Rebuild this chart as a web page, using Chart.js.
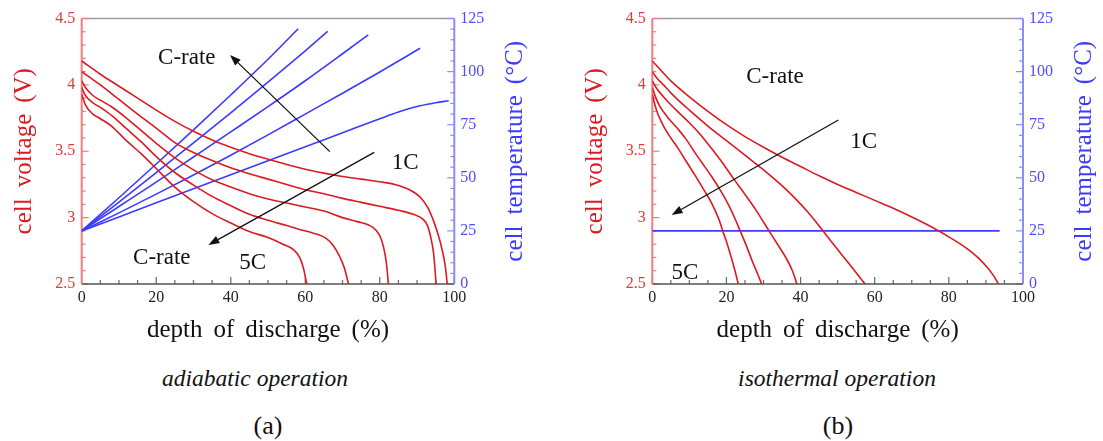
<!DOCTYPE html>
<html>
<head>
<meta charset="utf-8">
<title>Cell voltage and temperature vs depth of discharge</title>
<script src="https://cdn.jsdelivr.net/npm/chart.js@4.4.1/dist/chart.umd.min.js"></script>
<style>
  html, body { margin: 0; padding: 0; background: #fff; }
  body { width: 1103px; height: 441px; position: relative; overflow: hidden;
         font-family: 'Liberation Serif', 'Times New Roman', serif; }
  .panel { position: absolute; top: 0; height: 345px; }
  .caption { position: absolute; transform: translate(-50%, -50%); white-space: nowrap; color: #111; }
  .mode { font-style: italic; font-size: 23.5px; top: 378px; }
  .tag { font-size: 26px; top: 426px; }
</style>
</head>
<body>
<div class="panel" style="left:0;width:551px"><canvas id="adiabatic"></canvas></div>
<div class="panel" style="left:551px;width:552px"><canvas id="isothermal"></canvas></div>
<div class="caption mode" style="left:255px">adiabatic operation</div>
<div class="caption tag" style="left:268px">(a)</div>
<div class="caption mode" style="left:837px">isothermal operation</div>
<div class="caption tag" style="left:838px">(b)</div>
<script>
// axis ticks
const dodTicks = [0, 20, 40, 60, 80, 100];
const voltageTicks = [2.5, 3, 3.5, 4, 4.5];
const tempTicks = [0, 25, 50, 75, 100, 125];

// adiabatic discharge, [depth of discharge %, cell voltage V]
const adiaVolt1C = [[0,4.18],[2,4.14],[5,4.08],[10,3.99],[15,3.90],[20,3.81],[25,3.725],[30,3.65],[35,3.585],[40,3.53],[45,3.482],[50,3.44],[55,3.40],[60,3.365],[65,3.335],[70,3.31],[75,3.29],[80,3.27],[84,3.25],[88,3.21],[91,3.15],[93,3.07],[94.5,2.97],[95.8,2.86],[96.8,2.75],[97.6,2.63],[98.1,2.5]];
const adiaVolt2C = [[0,4.10],[2,4.06],[5,4.0],[10,3.89],[15,3.78],[20,3.675],[25,3.565],[30,3.49],[35,3.43],[40,3.375],[45,3.33],[50,3.29],[55,3.25],[60,3.21],[65,3.18],[70,3.145],[75,3.115],[80,3.085],[85,3.055],[89,3.025],[91.5,2.99],[92.8,2.94],[93.7,2.85],[94.4,2.74],[94.8,2.62],[95.1,2.5]];
const adiaVolt3C = [[0,4.03],[1,3.98],[3,3.92],[5,3.885],[8,3.835],[12,3.75],[16,3.655],[20,3.56],[25,3.45],[30,3.36],[35,3.285],[40,3.23],[45,3.18],[50,3.14],[55,3.11],[60,3.08],[65,3.05],[70,3.0],[74,2.97],[77,2.945],[79,2.905],[80.5,2.83],[81.5,2.71],[82,2.6],[82.3,2.5]];
const adiaVolt4C = [[0,3.98],[1,3.92],[3,3.865],[5,3.83],[8,3.77],[12,3.67],[16,3.57],[20,3.46],[25,3.34],[30,3.245],[35,3.16],[40,3.09],[45,3.025],[50,2.98],[55,2.94],[58,2.915],[62,2.885],[65.5,2.845],[67.5,2.79],[69,2.72],[70.5,2.62],[71.6,2.5]];
const adiaVolt5C = [[0,3.93],[1,3.85],[3,3.78],[5,3.745],[8,3.69],[12,3.58],[16,3.48],[20,3.37],[25,3.23],[30,3.12],[35,3.03],[40,2.96],[45,2.895],[50,2.85],[54,2.80],[57,2.755],[58.5,2.70],[59.5,2.62],[60.4,2.5]];

// adiabatic discharge, [depth of discharge %, cell temperature °C]
const adiaTemp1C = [[0,25],[10,31.6],[20,38.2],[30,44.8],[40,51.4],[50,58],[60,64.6],[70,71.2],[80,77.8],[85,81],[90,83.6],[95,85.3],[98.5,86.3]];
const adiaTemp2C = [[0,25],[10,33.5],[20,42.3],[30,51.3],[40,60.6],[50,70.2],[60,80],[70,89.8],[80,99.8],[90.8,111]];
const adiaTemp3C = [[0,25],[10,36.5],[20,48],[30,59.8],[40,71.6],[50,83.5],[60,95.7],[70,108.4],[76.9,117.3]];
const adiaTemp4C = [[0,25],[10,38.6],[20,52.4],[30,66.4],[40,80.6],[50,95],[60,109.8],[66,118.9]];
const adiaTemp5C = [[0,25],[10,40.6],[20,56.5],[30,72.6],[40,89],[50,105.8],[58.1,120.2]];

// isothermal discharge, [depth of discharge %, cell voltage V]
const isoVolt1C = [[0,4.18],[2,4.12],[5,4.03],[10,3.91],[15,3.80],[20,3.70],[25,3.61],[30,3.53],[35,3.455],[40,3.385],[45,3.315],[50,3.25],[55,3.19],[60,3.13],[65,3.07],[70,3.005],[75,2.935],[80,2.855],[85,2.765],[88,2.695],[90.5,2.62],[92,2.565],[93.4,2.5]];
const isoVolt2C = [[0,4.10],[1,4.06],[3,4.0],[5,3.94],[7,3.885],[10,3.81],[15,3.69],[20,3.58],[25,3.47],[30,3.36],[34,3.265],[38,3.16],[42,3.04],[45.5,2.92],[48,2.83],[51,2.725],[54,2.62],[57.4,2.5]];
const isoVolt3C = [[0,4.03],[1,3.98],[3,3.91],[5,3.85],[7,3.795],[10,3.715],[13,3.625],[16,3.52],[19,3.41],[22,3.29],[25,3.175],[28,3.055],[31.5,2.9],[34,2.79],[36,2.70],[37.8,2.6],[39,2.5]];
const isoVolt4C = [[0,3.98],[1,3.90],[2,3.84],[4,3.76],[7,3.665],[9,3.595],[11.5,3.49],[14,3.39],[16,3.31],[18.5,3.20],[20.5,3.10],[22.5,2.98],[23.7,2.9],[25.5,2.78],[27,2.67],[28.5,2.57],[29.5,2.5]];
const isoVolt5C = [[0,3.93],[0.7,3.85],[1.5,3.78],[3.4,3.67],[5,3.60],[7,3.52],[9,3.43],[11.5,3.32],[14,3.205],[16,3.11],[18,2.985],[19,2.9],[20,2.82],[21.4,2.69],[22.3,2.6],[23.2,2.5]];

// isothermal discharge, [depth of discharge %, cell temperature °C]
const isoTemp = [[0,25],[93.7,25]];

const RED = '#dc1a22';
const BLUE = '#3b3bff';
const RED_AXIS = '#f27b7b';
const BLUE_AXIS = '#8c8cff';
const SERIF = "'Liberation Serif', 'Times New Roman', serif";

function series(pairs, color, axis) {
  return {
    data: pairs.map(([x, y]) => ({ x, y })),
    borderColor: color,
    borderWidth: 1.6,
    pointRadius: 0,
    fill: false,
    yAxisID: axis,
    cubicInterpolationMode: 'monotone'
  };
}

function stroke(ctx, x1, y1, x2, y2, color, width) {
  ctx.strokeStyle = color;
  ctx.lineWidth = width;
  ctx.beginPath();
  ctx.moveTo(x1, y1);
  ctx.lineTo(x2, y2);
  ctx.stroke();
}

// words centred on (0,0) with a wide gap between them
function spacedText(ctx, text, gap) {
  const words = text.split(' ');
  const widths = words.map(w => ctx.measureText(w).width);
  let x = -(widths.reduce((s, w) => s + w, 0) + gap * (words.length - 1)) / 2;
  ctx.textAlign = 'left';
  ctx.textBaseline = 'middle';
  words.forEach((w, i) => { ctx.fillText(w, x, 0); x += widths[i] + gap; });
}

// frame with inward major/minor ticks
const framePlugin = {
  id: 'frame',
  beforeDatasetsDraw(chart) {
    const { ctx, chartArea: a, scales } = chart;
    ctx.save();
    stroke(ctx, a.left, a.top, a.right, a.top, '#9c9c9c', 1.5);
    for (let v = 0; v <= 100; v += 5) {
      const px = scales.x.getPixelForValue(v);
      stroke(ctx, px, a.bottom, px, a.bottom - (v % 20 === 0 ? 7 : 4), '#666', 1.2);
    }
    for (let i = 0; i <= 20; i++) {
      const py = scales.yV.getPixelForValue(2.5 + i * 0.1);
      stroke(ctx, a.left, py, a.left + (i % 5 === 0 ? 7 : 4), py, RED_AXIS, 1.2);
    }
    for (let t = 0; t <= 125; t += 5) {
      const py = scales.yT.getPixelForValue(t);
      stroke(ctx, a.right, py, a.right - (t % 25 === 0 ? 7 : 4), py, BLUE_AXIS, 1.2);
    }
    stroke(ctx, a.left, a.bottom, a.right, a.bottom, '#555', 1.6);
    stroke(ctx, a.left, a.top, a.left, a.bottom, RED_AXIS, 2);
    stroke(ctx, a.right, a.top, a.right, a.bottom, BLUE_AXIS, 2);
    ctx.restore();
  }
};

// axis titles, C-rate labels and arrows
const notesPlugin = {
  id: 'notes',
  afterDatasetsDraw(chart, args, opts) {
    const { ctx, chartArea: a, scales } = chart;
    const px = v => scales.x.getPixelForValue(v);
    const py = v => scales.yV.getPixelForValue(v);
    const midY = (a.top + a.bottom) / 2;
    ctx.save();
    ctx.font = '25px ' + SERIF;

    ctx.fillStyle = RED;
    ctx.save(); ctx.translate(a.left - 57, midY); ctx.rotate(-Math.PI / 2);
    spacedText(ctx, 'cell voltage (V)', 11); ctx.restore();

    ctx.fillStyle = BLUE;
    ctx.save(); ctx.translate(a.right + 61, midY); ctx.rotate(-Math.PI / 2);
    spacedText(ctx, 'cell temperature (°C)', 11); ctx.restore();

    ctx.fillStyle = '#111';
    ctx.save(); ctx.translate((a.left + a.right) / 2, a.bottom + 46);
    spacedText(ctx, 'depth of discharge (%)', 11); ctx.restore();

    ctx.font = '23px ' + SERIF;
    ctx.textAlign = 'center';
    ctx.textBaseline = 'middle';
    opts.labels.forEach(l => ctx.fillText(l.text, px(l.x), py(l.y)));

    opts.arrows.forEach(ar => {
      const x1 = px(ar.from[0]), y1 = py(ar.from[1]);
      const x2 = px(ar.to[0]), y2 = py(ar.to[1]);
      const ang = Math.atan2(y2 - y1, x2 - x1);
      const len = 11, half = 4;
      const bx = x2 - len * Math.cos(ang), by = y2 - len * Math.sin(ang);
      stroke(ctx, x1, y1, bx, by, '#111', 1.3);
      ctx.beginPath();
      ctx.moveTo(x2, y2);
      ctx.lineTo(bx + half * Math.sin(ang), by - half * Math.cos(ang));
      ctx.lineTo(bx - half * Math.sin(ang), by + half * Math.cos(ang));
      ctx.closePath();
      ctx.fill();
    });
    ctx.restore();
  }
};

function makeChart(id, datasets, leftWidth, rightWidth, notes) {
  const tickFont = { family: SERIF, size: 16 };
  return new Chart(document.getElementById(id), {
    type: 'line',
    data: { datasets },
    options: {
      responsive: true,
      maintainAspectRatio: false,
      animation: false,
      layout: { padding: { top: 18.5, left: 0, right: 0, bottom: 0 } },
      plugins: { legend: { display: false }, tooltip: { enabled: false }, notes },
      scales: {
        x: {
          type: 'linear', min: 0, max: 100,
          grid: { display: false, drawTicks: false }, border: { display: false },
          afterBuildTicks: s => { s.ticks = dodTicks.map(value => ({ value })); },
          afterFit: s => { s.height = 61; },
          ticks: { font: tickFont, color: '#222', padding: 4, maxRotation: 0, callback: v => String(v) }
        },
        yV: {
          type: 'linear', position: 'left', min: 2.5, max: 4.5,
          grid: { display: false, drawTicks: false }, border: { display: false },
          afterBuildTicks: s => { s.ticks = voltageTicks.map(value => ({ value })); },
          afterFit: s => { s.width = leftWidth; },
          ticks: { font: tickFont, color: '#e23a3a', padding: 6.5, callback: v => String(v) }
        },
        yT: {
          type: 'linear', position: 'right', min: 0, max: 125,
          grid: { display: false, drawTicks: false }, border: { display: false },
          afterBuildTicks: s => { s.ticks = tempTicks.map(value => ({ value })); },
          afterFit: s => { s.width = rightWidth; },
          ticks: { font: tickFont, color: '#4d4dff', padding: 6, callback: v => String(v) }
        }
      }
    },
    plugins: [framePlugin, notesPlugin]
  });
}

makeChart('adiabatic', [
  series(adiaVolt1C, RED, 'yV'), series(adiaVolt2C, RED, 'yV'), series(adiaVolt3C, RED, 'yV'),
  series(adiaVolt4C, RED, 'yV'), series(adiaVolt5C, RED, 'yV'),
  series(adiaTemp1C, BLUE, 'yT'), series(adiaTemp2C, BLUE, 'yT'), series(adiaTemp3C, BLUE, 'yT'),
  series(adiaTemp4C, BLUE, 'yT'), series(adiaTemp5C, BLUE, 'yT')
], 81.7, 96.7, {
  labels: [
    { text: 'C-rate', x: 28.2, y: 4.2 },
    { text: 'C-rate', x: 21.5, y: 2.694 },
    { text: '5C', x: 45.9, y: 2.66 },
    { text: '1C', x: 86.8, y: 3.409 }
  ],
  arrows: [
    { from: [66.6, 3.497], to: [39.8, 4.225] },
    { from: [78.5, 3.492], to: [34.0, 2.794] }
  ]
});

makeChart('isothermal', [
  series(isoVolt1C, RED, 'yV'), series(isoVolt2C, RED, 'yV'), series(isoVolt3C, RED, 'yV'),
  series(isoVolt4C, RED, 'yV'), series(isoVolt5C, RED, 'yV'),
  series(isoTemp, BLUE, 'yT')
], 101.3, 80, {
  labels: [
    { text: 'C-rate', x: 33.1, y: 4.06 },
    { text: '1C', x: 57.0, y: 3.572 },
    { text: '5C', x: 8.8, y: 2.58 }
  ],
  arrows: [
    { from: [50.2, 3.735], to: [5.2, 3.02] }
  ]
});
</script>
</body>
</html>
